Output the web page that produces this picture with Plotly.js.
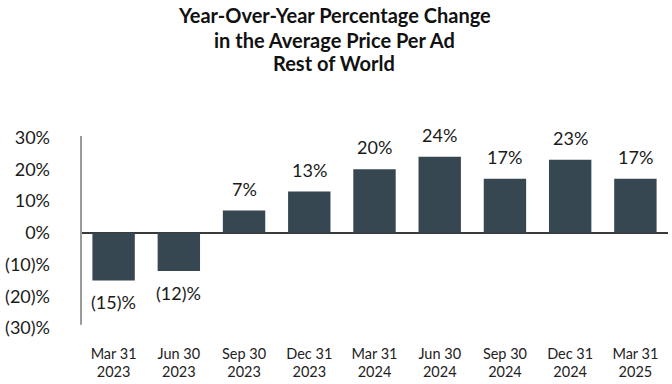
<!DOCTYPE html>
<html>
<head>
<meta charset="utf-8">
<script src="https://cdn.plot.ly/plotly-3.0.1.min.js"></script>
<style>html,body{margin:0;padding:0;background:#fff;}#chart{width:672px;height:384px;}</style>
</head>
<body>
<div id="chart"></div>
<script>
const categories = ["Mar 31<br>2023","Jun 30<br>2023","Sep 30<br>2023","Dec 31<br>2023","Mar 31<br>2024","Jun 30<br>2024","Sep 30<br>2024","Dec 31<br>2024","Mar 31<br>2025"];
const values = [-15, -12, 7, 13, 20, 24, 17, 23, 17];
const valueLabels = ["(15)%","(12)%","7%","13%","20%","24%","17%","23%","17%"];
const yTickVals = [30, 20, 10, 0, -10, -20, -30];
const yTickText = ["30%","20%","10%","0%","(10)%","(20)%","(30)%"];
const titleLines = ["Year-Over-Year Percentage Change","in the Average Price Per Ad","Rest of World"];

const FONT = "Lato, 'Open Sans', sans-serif";
const barColor = "#374751";

const W = 672, H = 384, ML = 81, MR = 4, MT = 136, MB = 56;
const plotW = W - ML - MR, plotH = H - MT - MB;

const annotations = values.map((v, i) => ({
  x: categories[i], y: v, xref: "x", yref: "y",
  text: valueLabels[i], showarrow: false,
  yanchor: v >= 0 ? "bottom" : "top",
  yshift: v >= 0 ? 9 : -9,
  font: {family: FONT, size: 18, color: "#1a1a1a"}
}));

const titleCenters = [15, 40, 63];
titleLines.forEach((t, i) => {
  annotations.push({
    xref: "paper", yref: "paper",
    x: (334 - ML) / plotW, y: 1 + (MT - titleCenters[i]) / plotH,
    xanchor: "center", yanchor: "middle",
    text: "<b>" + t + "</b>", showarrow: false,
    font: {family: FONT, size: 20, color: "#111"}
  });
});

const layout = {
  width: W, height: H,
  margin: {l: ML, r: MR, t: MT, b: MB},
  paper_bgcolor: "#fff", plot_bgcolor: "#fff",
  showlegend: false,
  bargap: 0.35,
  xaxis: {
    type: "category",
    showline: false, showgrid: false, zeroline: false,
    ticks: "",
    tickfont: {family: FONT, size: 14.5, color: "#222"},
    ticklabelstandoff: 15
  },
  yaxis: {
    range: [-30, 30.5],
    tickvals: yTickVals, ticktext: yTickText,
    showgrid: false, showline: false,
    zeroline: true, zerolinecolor: "#3a3a3a", zerolinewidth: 2,
    ticks: "",
    tickfont: {family: FONT, size: 18, color: "#1a1a1a"},
    ticklabelstandoff: 30
  },
  shapes: [{
    type: "line", xref: "paper", yref: "y",
    x0: 0, x1: 0, y0: -29, y1: 30.5,
    line: {color: "#9a9a9a", width: 2}
  }],
  annotations: annotations
};

Plotly.newPlot("chart", [{
  type: "bar", x: categories, y: values,
  marker: {color: barColor},
  hoverinfo: "none"
}], layout, {staticPlot: true, displayModeBar: false});
</script>
</body>
</html>
